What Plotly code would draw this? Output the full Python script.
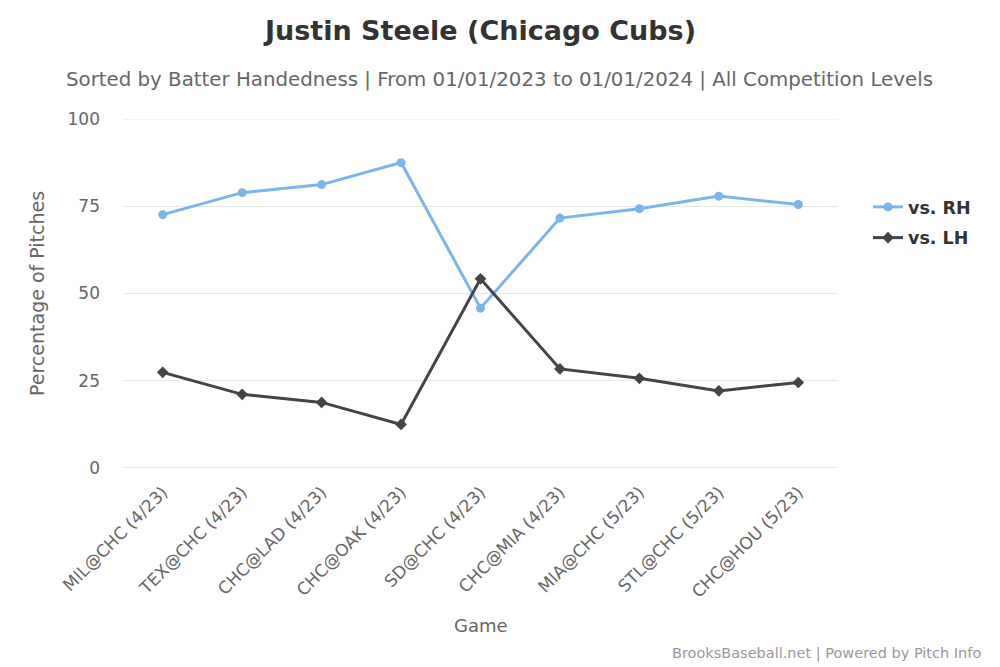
import plotly.graph_objects as go

games = ["MIL@CHC (4/23)", "TEX@CHC (4/23)", "CHC@LAD (4/23)", "CHC@OAK (4/23)",
         "SD@CHC (4/23)", "CHC@MIA (4/23)", "MIA@CHC (5/23)", "STL@CHC (5/23)",
         "CHC@HOU (5/23)"]
vs_rh = [72.6, 78.9, 81.2, 87.5, 45.8, 71.6, 74.3, 77.9, 75.5]
vs_lh = [27.4, 21.1, 18.8, 12.5, 54.2, 28.4, 25.7, 22.1, 24.5]
y_ticks = [0, 25, 50, 75, 100]

FONT = "DejaVu Sans"
L, R, T, B = 123, 162, 119, 199
W, H = 1000, 667
pw = W - L - R
ph = H - T - B


def px_x(x):
    return (x - L) / pw


def px_y(y):
    return (T + ph - y) / ph


fig = go.Figure()
fig.add_trace(go.Scatter(
    x=games, y=vs_rh, name="vs. RH", mode="lines+markers",
    line=dict(color="#7cb5ec", width=3),
    marker=dict(symbol="circle", size=9, color="#7cb5ec"),
    legendgroup="rh"))
fig.add_trace(go.Scatter(
    x=games, y=vs_lh, name="vs. LH", mode="lines+markers",
    line=dict(color="#434348", width=3),
    marker=dict(symbol="diamond", size=9, color="#434348"),
    legendgroup="lh"))

fig.update_layout(
    width=W, height=H,
    margin=dict(l=L, r=R, t=T, b=B),
    paper_bgcolor="white", plot_bgcolor="white",
    font=dict(family=FONT, color="#666666"),
    title=dict(text="<b>Justin Steele (Chicago Cubs)</b>",
               x=0.5, xref="paper", xanchor="center",
               y=1 - 31 / H, yref="container", yanchor="middle",
               font=dict(family=FONT, size=27, color="#333333")),
    showlegend=True,
    legend=dict(x=px_x(868), xanchor="left", y=px_y(189), yanchor="top",
                font=dict(family=FONT, size=17.5, color="#333333", weight="bold"),
                traceorder="grouped", tracegroupgap=5,
                bgcolor="rgba(0,0,0,0)", itemwidth=30),
    xaxis=dict(
        type="category", range=[-0.5, len(games) - 0.5],
        tickangle=-45, tickfont=dict(family=FONT, size=17, color="#666666"),
        showgrid=False, showline=False, ticks="", zeroline=False,
        ticklabelstandoff=10,
    ),
    yaxis=dict(
        range=[0, 100], tickvals=y_ticks, ticktext=[str(v) for v in y_ticks],
        tickfont=dict(family=FONT, size=17, color="#666666"),
        showgrid=True, gridcolor="#e6e6e6", gridwidth=1,
        zeroline=False, showline=False, ticks="", ticklabelstandoff=22,
    ),
    shapes=[
        dict(type="line", xref="paper", yref="y", x0=0, x1=1, y0=100, y1=100,
             line=dict(color="#e6e6e6", width=1), layer="below"),
        dict(type="line", xref="paper", yref="y", x0=0, x1=1, y0=0, y1=0,
             line=dict(color="#d8d8d8", width=1), layer="below"),
    ],
    annotations=[
        dict(text="Sorted by Batter Handedness | From 01/01/2023 to 01/01/2024 | All Competition Levels",
             xref="paper", yref="paper", x=px_x(500), y=px_y(79),
             xanchor="center", yanchor="middle", showarrow=False,
             font=dict(family=FONT, size=19.8, color="#666666")),
        dict(text="Percentage of Pitches", textangle=-90,
             xref="paper", yref="paper", x=px_x(37), y=px_y(294),
             xanchor="center", yanchor="middle", showarrow=False,
             font=dict(family=FONT, size=19, color="#666666")),
        dict(text="Game",
             xref="paper", yref="paper", x=px_x(481), y=px_y(625),
             xanchor="center", yanchor="middle", showarrow=False,
             font=dict(family=FONT, size=18, color="#666666")),
        dict(text="BrooksBaseball.net | Powered by Pitch Info",
             xref="paper", yref="paper", x=px_x(983), y=px_y(653),
             xanchor="right", yanchor="middle", showarrow=False,
             font=dict(family=FONT, size=14.5, color="#999999")),
    ],
)

fig.write_html("out.html", config={"displayModeBar": False},
               post_script="document.body.style.margin='0';")
